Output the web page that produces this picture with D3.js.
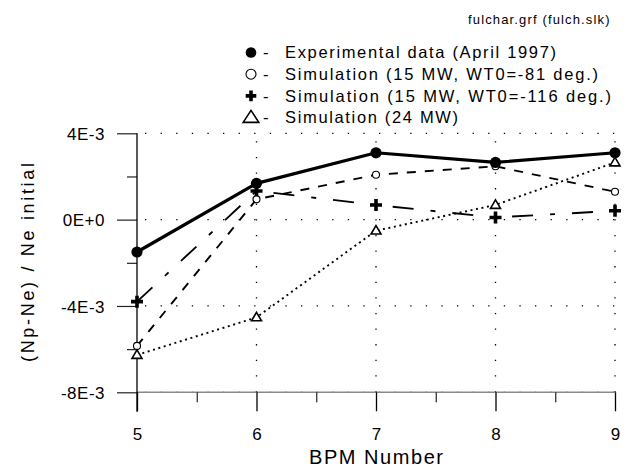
<!DOCTYPE html>
<html><head><meta charset="utf-8">
<script src="https://cdn.jsdelivr.net/npm/d3@7"></script>
<style>
html,body{margin:0;padding:0;background:#fff;}
svg{display:block;font-family:"Liberation Sans",Arial,sans-serif;}
</style></head>
<body><svg id="c" width="628" height="468"></svg>
<script>
// ---- data ----
const bpm = [5, 6, 7, 8, 9];
const experimental = [-1.5e-3, 1.68e-3, 3.1e-3, 2.65e-3, 3.1e-3];
const sim15_81 = [-5.85e-3, 0.94e-3, 2.08e-3, 2.47e-3, 1.29e-3];
const sim15_116 = [-3.8e-3, 1.33e-3, 0.68e-3, 0.1e-3, 0.41e-3];
const sim24 = [-6.27e-3, -4.53e-3, -0.51e-3, 0.68e-3, 2.65e-3];
const yTicks = [4e-3, 0, -4e-3, -8e-3];
const yTickLabels = ["4E-3", "0E+0", "-4E-3", "-8E-3"];
const yMinorTicks = [2e-3, -2e-3, -6e-3];
const xTicks = [5, 6, 7, 8, 9];
const xTickLabels = ["5", "6", "7", "8", "9"];
const xMinorTicks = [5.5, 6.5, 7.5, 8.5];
const legendLabels = [
  "Experimental data (April 1997)",
  "Simulation (15 MW, WT0=-81 deg.)",
  "Simulation (15 MW, WT0=-116 deg.)",
  "Simulation (24 MW)"
];
const title = "fulchar.grf (fulch.slk)";
const xTitle = "BPM Number";
const yTitle = "(Np-Ne) / Ne initial";

// ---- layout ----
const svg = d3.select("#c");
const x = d3.scaleLinear().domain([5, 9]).range([137, 615]);
const y = d3.scaleLinear().domain([-8e-3, 4e-3]).range([392.3, 133.3]);

// grid (dotted)
const grid = svg.append("g").attr("stroke", "#000").attr("stroke-width", 1.3)
  .attr("stroke-dasharray", "1.3,14.3").attr("fill", "none");
// x axis base line (gray)
svg.append("line").attr("x1", x(5)).attr("x2", x(9)).attr("y1", y(-8e-3)).attr("y2", y(-8e-3))
  .attr("stroke", "#8a8a8a").attr("stroke-width", 1.6);
yTicks.forEach(v => {
  grid.append("line").attr("x1", x(5) + 8).attr("x2", x(9)).attr("y1", y(v)).attr("y2", y(v));
});
xTicks.slice(1).forEach(v => {
  grid.append("line").attr("x1", x(v)).attr("x2", x(v)).attr("y1", y(4e-3) + 8).attr("y2", y(-8e-3));
});

// y axis
const yAxis = d3.axisLeft(y).tickValues(yTicks).tickSize(20).tickPadding(12)
  .tickFormat((d, i) => yTickLabels[i]);
const gy = svg.append("g").attr("transform", `translate(${x(5)},0)`).call(yAxis);
gy.select(".domain").remove();
gy.selectAll(".tick line").attr("stroke", "#222").attr("stroke-width", 1.2);
gy.selectAll(".tick text").attr("font-size", 17).attr("fill", "#000")
  .attr("font-family", "Liberation Sans, Arial, sans-serif").attr("dy", "0.36em")
  .attr("letter-spacing", "0.5px");
const yAxisMinor = d3.axisLeft(y).tickValues(yMinorTicks).tickSize(10).tickFormat("");
const gym = svg.append("g").attr("transform", `translate(${x(5)},0)`).call(yAxisMinor);
gym.select(".domain").remove();
gym.selectAll(".tick line").attr("stroke", "#222").attr("stroke-width", 1.2);
svg.append("line").attr("x1", x(5)).attr("x2", x(5)).attr("y1", y(4e-3)).attr("y2", y(-8e-3) + 19.5)
  .attr("stroke", "#000").attr("stroke-width", 1.3);

// x axis
const xAxis = d3.axisBottom(x).tickValues(xTicks).tickSize(19).tickPadding(17)
  .tickFormat((d, i) => xTickLabels[i]);
const gx = svg.append("g").attr("transform", `translate(0,${y(-8e-3)})`).call(xAxis);
gx.select(".domain").remove();
gx.selectAll(".tick line").attr("stroke", "#000").attr("stroke-width", 1.3);
gx.selectAll(".tick text").attr("font-size", 17).attr("fill", "#000")
  .attr("font-family", "Liberation Sans, Arial, sans-serif");
const xAxisMinor = d3.axisBottom(x).tickValues(xMinorTicks).tickSize(10).tickFormat("");
const gxm = svg.append("g").attr("transform", `translate(0,${y(-8e-3)})`).call(xAxisMinor);
gxm.select(".domain").remove();
gxm.selectAll(".tick line").attr("stroke", "#222").attr("stroke-width", 1.2);

// series
const series = [
  {vals: experimental, dash: null, w: 3.2, marker: "fill"},
  {vals: sim15_81, dash: "9,9", w: 1.9, marker: "open"},
  {vals: sim15_116, dash: "21,17,5,17", w: 1.9, marker: "plus"},
  {vals: sim24, dash: "2,3.6", w: 1.9, marker: "tri"}
];
const line = d3.line().x((d, i) => x(bpm[i])).y(d => y(d));
const drawMarker = (g, type, cx, cy, big) => {
  const s = big ? 1.2 : 1;
  if (type === "fill") {
    g.append("circle").attr("cx", cx).attr("cy", cy).attr("r", 5.6 * (big ? 0.95 : 1)).attr("fill", "#000");
  } else if (type === "open") {
    g.append("circle").attr("cx", cx).attr("cy", cy).attr("r", big ? 5 : 3.5)
      .attr("fill", "#fff").attr("stroke", "#000").attr("stroke-width", big ? 1.1 : 1.1);
  } else if (type === "plus") {
    const a = big ? 5.3 : 6;
    g.append("path").attr("d", `M${cx - a},${cy}H${cx + a}M${cx},${cy - a}V${cy + a}`)
      .attr("stroke", "#000").attr("stroke-width", 3.6).attr("fill", "none");
  } else if (type === "tri") {
    const hw = big ? 7.8 : 5, h = big ? 12 : 8.5;
    g.append("path").attr("d", `M${cx},${cy - h * 0.6}L${cx + hw},${cy + h * 0.4}L${cx - hw},${cy + h * 0.4}Z`)
      .attr("stroke", "#000").attr("stroke-width", 1.6).attr("fill", big ? "none" : "#fff");
  }
};
// draw lines back-to-front
[3, 2, 1, 0].forEach(k => {
  const s = series[k];
  svg.append("path").datum(s.vals).attr("d", line).attr("fill", "none")
    .attr("stroke", "#000").attr("stroke-width", s.w)
    .attr("stroke-dasharray", s.dash).attr("stroke-linejoin", "round");
});
const mg = svg.append("g");
[3, 2, 1, 0].forEach(k => {
  const s = series[k];
  s.vals.forEach((v, i) => drawMarker(mg, s.marker, x(bpm[i]), y(v), false));
});

// legend
const lg = svg.append("g");
const legendTargets = [271, 313, 326, 173];
legendLabels.forEach((t, i) => {
  const cy = 52.5 + i * 21.7;
  drawMarker(lg, series[i].marker, 251, cy, true);
  lg.append("text").attr("x", 263).attr("y", cy + 5.8).attr("font-size", 16.5).text("-");
  lg.append("text").attr("x", 285).attr("y", cy + 5.8).attr("font-size", 16.5)
    .attr("textLength", legendTargets[i]).attr("lengthAdjust", "spacing").text(t);
});

// titles
svg.append("text").attr("x", 609.5).attr("y", 24).attr("text-anchor", "end")
  .attr("font-size", 13).attr("textLength", 141.5).attr("lengthAdjust", "spacing").text(title);
svg.append("text").attr("x", 309).attr("y", 464).attr("font-size", 20)
  .attr("textLength", 134).attr("lengthAdjust", "spacing").text(xTitle);
svg.append("text").attr("transform", "translate(33.5,362) rotate(-90)")
  .attr("font-size", 18).attr("textLength", 199).attr("lengthAdjust", "spacing").text(yTitle);
</script></body></html>
